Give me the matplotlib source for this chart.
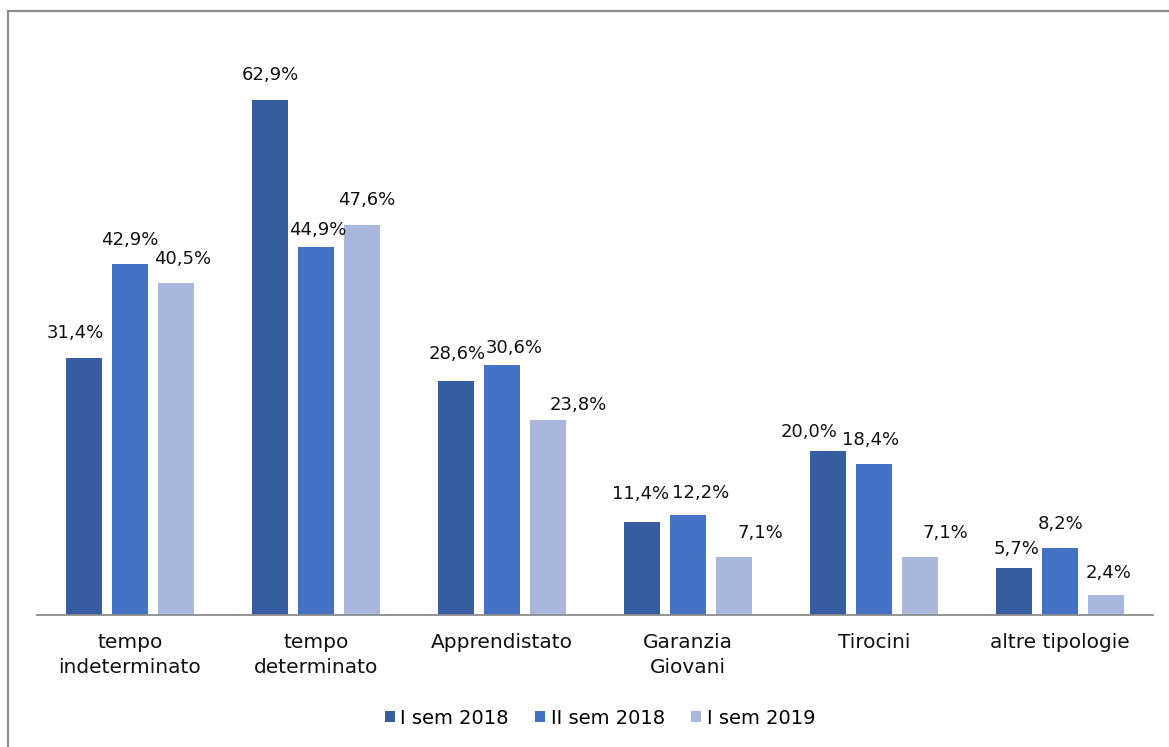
import matplotlib.pyplot as plt
import numpy as np

plt.rcParams['font.family'] = ['DejaVu Sans']

categories = ['tempo\nindeterminato', 'tempo\ndeterminato', 'Apprendistato',
              'Garanzia\nGiovani', 'Tirocini', 'altre tipologie']
series = ['I sem 2018', 'II sem 2018', 'I sem 2019']
i_sem_2018 = [31.4, 62.9, 28.6, 11.4, 20.0, 5.7]
ii_sem_2018 = [42.9, 44.9, 30.6, 12.2, 18.4, 8.2]
i_sem_2019 = [40.5, 47.6, 23.8, 7.1, 7.1, 2.4]

colors = ['#365DA0', '#4472C4', '#A9B7DC']

# label nudges in pixels (dx, dy above bar top) so neighbouring labels don't collide
nudges = [
    [(-9, 25), (0, 24), (7, 24)],
    [(0, 25), (2, 17), (5, 25)],
    [(1, 27), (12, 17), (30, 15)],
    [(-1, 28), (13, 22), (26, 24)],
    [(-19, 19), (-3, 24), (25, 24)],
    [(2, 19), (1, 24), (3, 22)],
]

fig = plt.figure(figsize=(11.69, 7.47), dpi=100)
ax = fig.add_axes([37 / 1169, 1 - 615 / 747, (1153 - 37) / 1169, (615 - 42) / 747])

x = np.arange(len(categories))
w = 0.195
step = 0.247
data = [i_sem_2018, ii_sem_2018, i_sem_2019]
for k, (vals, name, col) in enumerate(zip(data, series, colors)):
    pos = x + (k - 1) * step
    bars = ax.bar(pos, vals, width=w, color=col, label=name, zorder=2)
    for i, (b, v) in enumerate(zip(bars, vals)):
        dx, dy = nudges[i][k]
        ax.annotate(f'{v:.1f}%'.replace('.', ','),
                    (b.get_x() + b.get_width() / 2, v),
                    xytext=(dx, dy), textcoords='offset pixels',
                    ha='center', va='center', fontsize=13, color='#111111')

ax.set_xlim(-0.5, len(categories) - 0.5)
ax.set_ylim(0, 70)
ax.set_xticks(x)
ax.set_xticklabels(categories, fontsize=14.5, color='#111111', linespacing=1.4)
ax.tick_params(axis='x', length=0, pad=13)
ax.set_yticks([])
for s in ['top', 'right', 'left']:
    ax.spines[s].set_visible(False)
ax.spines['bottom'].set_color('#8c8c8c')
ax.spines['bottom'].set_linewidth(1.3)

fig.legend(loc='center', bbox_to_anchor=(600 / 1169, 1 - 718 / 747), ncol=3,
           frameon=False, fontsize=14, handlelength=0.5, handleheight=0.5,
           handletextpad=0.3, columnspacing=1.35)

# chart frame, only top and left edges are visible
fig.add_artist(plt.Line2D([7.5 / 1169, 7.5 / 1169], [0, 1 - 10.5 / 747],
                          transform=fig.transFigure, color='#8c8c8c', lw=1.6))
fig.add_artist(plt.Line2D([7.5 / 1169, 1], [1 - 10.5 / 747, 1 - 10.5 / 747],
                          transform=fig.transFigure, color='#8c8c8c', lw=1.6))

fig.savefig('out.png', dpi=100, facecolor='white')
